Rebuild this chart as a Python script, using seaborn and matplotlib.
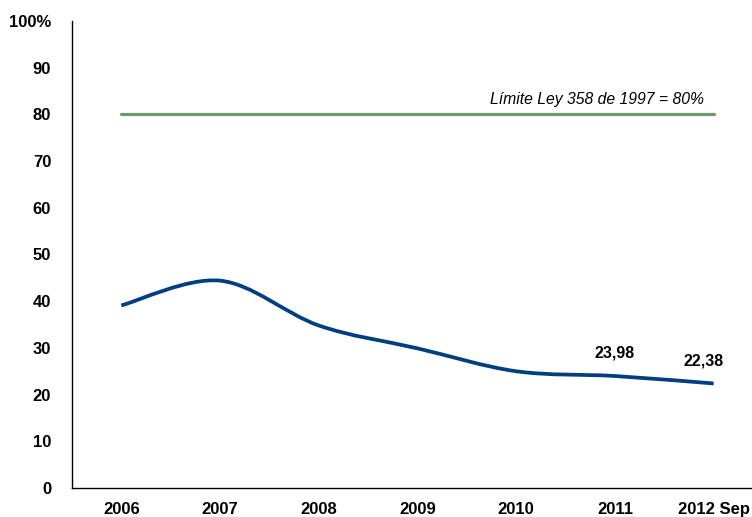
import matplotlib
matplotlib.use("Agg")
import matplotlib.pyplot as plt
from matplotlib.path import Path
from matplotlib.patches import PathPatch
import seaborn as sns

# Datos del gráfico
categorias = ["2006", "2007", "2008", "2009", "2010", "2011", "2012 Sep"]
indicador = [39.1, 44.4, 34.8, 29.9, 25.0, 23.98, 22.38]
limite = [80] * len(categorias)
etiquetas_y = ["0", "10", "20", "30", "40", "50", "60", "70", "80", "90", "100%"]
texto_limite = "Límite Ley 358 de 1997 = 80%"

sns.set_style("white")
plt.rcParams['font.family'] = ['Liberation Sans', 'DejaVu Sans']
plt.rcParams['text.color'] = 'black'
plt.rcParams['xtick.color'] = 'black'
plt.rcParams['ytick.color'] = 'black'

fig = plt.figure(figsize=(7.52, 5.17), dpi=100)
ax = fig.add_axes([72 / 752, 29 / 517, 691 / 752, 467 / 517])

x = list(range(len(categorias)))

# Línea del límite legal
sns.lineplot(x=x, y=limite, ax=ax, color="#6b9b6b", linewidth=2.3)

# Curva suavizada (estilo Excel) con Bezier
verts = [(x[0], indicador[0])]
codes = [Path.MOVETO]
n = len(x)
for i in range(n - 1):
    p0 = (x[i - 1], indicador[i - 1]) if i > 0 else (x[i], indicador[i])
    p1 = (x[i], indicador[i])
    p2 = (x[i + 1], indicador[i + 1])
    p3 = (x[i + 2], indicador[i + 2]) if i + 2 < n else p2
    c1 = (p1[0] + (p2[0] - p0[0]) / 6, p1[1] + (p2[1] - p0[1]) / 6)
    c2 = (p2[0] - (p3[0] - p1[0]) / 6, p2[1] - (p3[1] - p1[1]) / 6)
    verts += [c1, c2, p2]
    codes += [Path.CURVE4] * 3
ax.add_patch(PathPatch(Path(verts, codes), facecolor="none",
                       edgecolor="#003f7f", linewidth=2.7, capstyle="butt"))

# Etiquetas de datos
ax.text(x[5], indicador[5] + 3.3, "23,98", ha="center", va="bottom",
        fontsize=11.5, fontweight="bold")
ax.annotate("22,38", (x[6], indicador[6] + 3.3), xytext=(-7, 0),
            textcoords="offset points", ha="center", va="bottom",
            fontsize=11.5, fontweight="bold")
ax.annotate(texto_limite, (x[6], 81.5), xytext=(-7, 0),
            textcoords="offset points", ha="right", va="bottom",
            fontsize=11.3, fontstyle="italic")

ax.set_xlim(-0.5, len(categorias) - 0.5)
ax.set_ylim(0, 100)
ax.set_xticks(x)
ax.set_xticklabels(categorias, fontsize=12, fontweight="bold")
ax.set_yticks(range(0, 101, 10))
ax.set_yticklabels(etiquetas_y, fontsize=12, fontweight="bold")
ax.tick_params(axis="x", length=0, pad=10)
ax.tick_params(axis="y", length=0, pad=15)

for s in ["top", "right"]:
    ax.spines[s].set_visible(False)
for s in ["left", "bottom"]:
    ax.spines[s].set_color("black")
    ax.spines[s].set_linewidth(1)

fig.savefig("out.png", dpi=100)
